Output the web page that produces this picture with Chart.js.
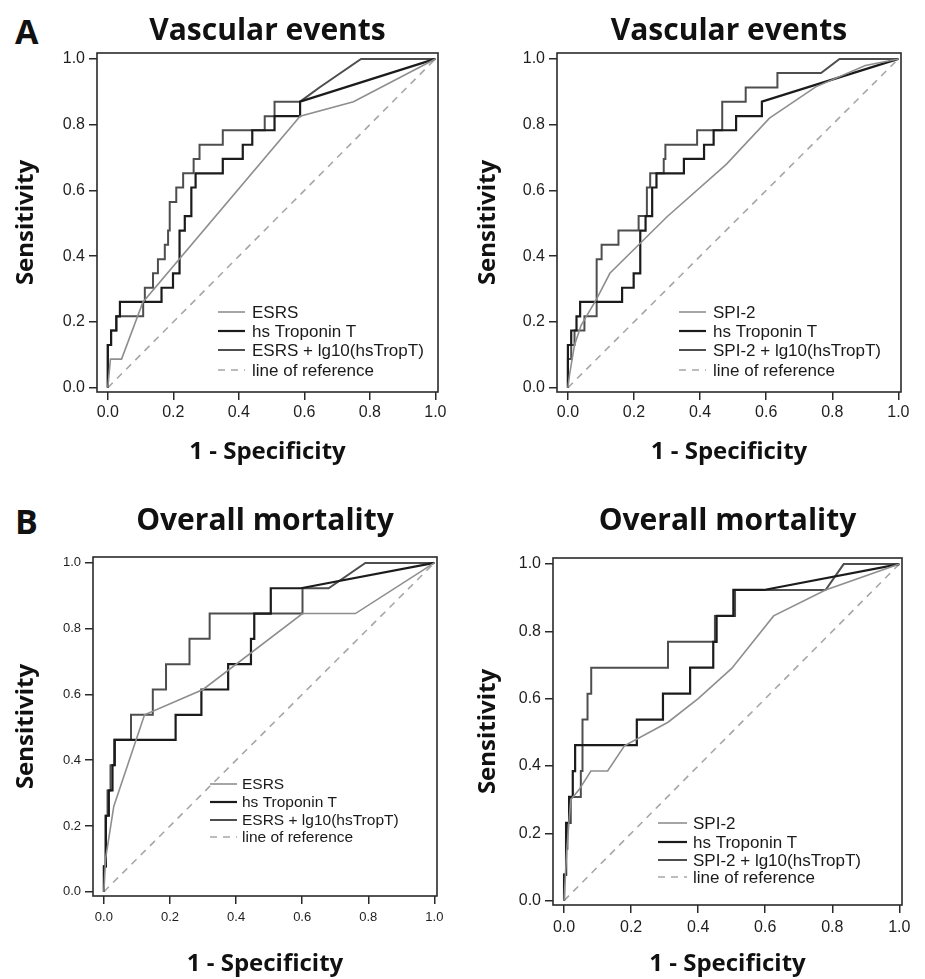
<!DOCTYPE html>
<html>
<head>
<meta charset="utf-8">
<script src="https://cdn.jsdelivr.net/npm/chart.js@4.4.1/dist/chart.umd.min.js"></script>
<style>
  body { margin: 0; background: #fff; width: 925px; height: 979px; position: relative; overflow: hidden; }
  canvas { position: absolute; }
  .tag { position: absolute; font: bold 34px "Open Sans", sans-serif; line-height: 1; color: #111; }
</style>
</head>
<body>
<div class="tag" style="left:15px;top:14px">A</div>
<div class="tag" style="left:15px;top:504px">B</div>
<canvas id="aLeft"></canvas>
<canvas id="aRight"></canvas>
<canvas id="bLeft"></canvas>
<canvas id="bRight"></canvas>
<script>
// axis ticks
const tickValues = [0, 0.2, 0.4, 0.6, 0.8, 1.0];
const tickLabels = ['0.0', '0.2', '0.4', '0.6', '0.8', '1.0'];

// reference diagonal
const refFpr = [0, 1];
const refSens = [0, 1];

// A - vascular events
const vascEsrsFpr = [0, 0.008, 0.042, 0.107, 0.587, 0.750, 1];
const vascEsrsSens = [0, 0.087, 0.087, 0.26, 0.826, 0.870, 1];

const vascTropFpr = [0, 0, 0.01, 0.01, 0.026, 0.026, 0.037, 0.037, 0.164, 0.164, 0.199, 0.199, 0.219, 0.219, 0.235, 0.235, 0.255, 0.255, 0.268, 0.268, 0.351, 0.351, 0.412, 0.412, 0.441, 0.441, 0.509, 0.509, 0.587, 0.587, 1];
const vascTropSens = [0, 0.13, 0.13, 0.174, 0.174, 0.217, 0.217, 0.261, 0.261, 0.304, 0.304, 0.348, 0.348, 0.478, 0.478, 0.522, 0.522, 0.609, 0.609, 0.652, 0.652, 0.696, 0.696, 0.739, 0.739, 0.783, 0.783, 0.826, 0.826, 0.870, 1];

const vascCombEsrsFpr = [0, 0, 0.01, 0.01, 0.026, 0.026, 0.108, 0.108, 0.113, 0.113, 0.138, 0.138, 0.153, 0.153, 0.174, 0.174, 0.184, 0.184, 0.189, 0.189, 0.209, 0.209, 0.230, 0.230, 0.262, 0.262, 0.280, 0.280, 0.351, 0.351, 0.479, 0.479, 0.509, 0.509, 0.587, 0.646, 0.773, 1];
const vascCombEsrsSens = [0, 0.13, 0.13, 0.174, 0.174, 0.217, 0.217, 0.261, 0.261, 0.304, 0.304, 0.348, 0.348, 0.391, 0.391, 0.435, 0.435, 0.478, 0.478, 0.565, 0.565, 0.609, 0.609, 0.652, 0.652, 0.696, 0.696, 0.739, 0.739, 0.783, 0.783, 0.826, 0.826, 0.870, 0.870, 0.913, 1, 1];

const vascSpiFpr = [0, 0.005, 0.02, 0.04, 0.087, 0.127, 0.3, 0.48, 0.61, 0.75, 0.9, 1];
const vascSpiSens = [0, 0.04, 0.13, 0.19, 0.27, 0.348, 0.52, 0.68, 0.82, 0.915, 0.98, 1];

const vascCombSpiFpr = [0, 0, 0.01, 0.01, 0.02, 0.02, 0.05, 0.05, 0.087, 0.087, 0.102, 0.102, 0.153, 0.153, 0.214, 0.214, 0.239, 0.239, 0.249, 0.249, 0.290, 0.290, 0.295, 0.295, 0.391, 0.391, 0.467, 0.467, 0.538, 0.538, 0.634, 0.634, 0.766, 0.822, 1];
const vascCombSpiSens = [0, 0.087, 0.087, 0.13, 0.13, 0.174, 0.174, 0.217, 0.217, 0.391, 0.391, 0.435, 0.435, 0.478, 0.478, 0.522, 0.522, 0.609, 0.609, 0.652, 0.652, 0.696, 0.696, 0.739, 0.739, 0.783, 0.783, 0.870, 0.870, 0.913, 0.913, 0.957, 0.957, 1, 1];

// B - overall mortality
const mortEsrsFpr = [0, 0.005, 0.03, 0.123, 0.30, 0.601, 0.761, 1];
const mortEsrsSens = [0, 0.10, 0.26, 0.538, 0.615, 0.846, 0.846, 1];

const mortTropFpr = [0, 0, 0.006, 0.006, 0.015, 0.015, 0.026, 0.026, 0.033, 0.033, 0.217, 0.217, 0.295, 0.295, 0.376, 0.376, 0.445, 0.445, 0.455, 0.455, 0.505, 0.505, 0.596, 1];
const mortTropSens = [0, 0.077, 0.077, 0.231, 0.231, 0.308, 0.308, 0.385, 0.385, 0.462, 0.462, 0.538, 0.538, 0.615, 0.615, 0.692, 0.692, 0.769, 0.769, 0.846, 0.846, 0.923, 0.923, 1];

const mortCombEsrsFpr = [0, 0, 0.005, 0.005, 0.011, 0.011, 0.02, 0.02, 0.031, 0.031, 0.082, 0.082, 0.148, 0.148, 0.188, 0.188, 0.259, 0.259, 0.320, 0.320, 0.601, 0.601, 0.680, 0.791, 1];
const mortCombEsrsSens = [0, 0.077, 0.077, 0.231, 0.231, 0.308, 0.308, 0.385, 0.385, 0.462, 0.462, 0.538, 0.538, 0.615, 0.615, 0.692, 0.692, 0.769, 0.769, 0.846, 0.846, 0.923, 0.923, 1, 1];

const mortSpiFpr = [0, 0.008, 0.02, 0.045, 0.08, 0.13, 0.18, 0.31, 0.40, 0.50, 0.625, 0.78, 1];
const mortSpiSens = [0, 0.15, 0.30, 0.33, 0.385, 0.385, 0.46, 0.53, 0.60, 0.69, 0.846, 0.923, 1];

const mortCombSpiFpr = [0, 0, 0.006, 0.006, 0.01, 0.01, 0.02, 0.02, 0.05, 0.05, 0.055, 0.055, 0.07, 0.07, 0.081, 0.081, 0.31, 0.31, 0.45, 0.45, 0.51, 0.51, 0.78, 0.834, 1];
const mortCombSpiSens = [0, 0.077, 0.077, 0.154, 0.154, 0.231, 0.231, 0.308, 0.308, 0.385, 0.385, 0.538, 0.538, 0.615, 0.615, 0.692, 0.692, 0.769, 0.769, 0.846, 0.846, 0.923, 0.923, 1, 1];

const toPoints = (xs, ys) => xs.map((x, i) => ({ x: x, y: ys[i] }));

// box around the plot area
const framePlugin = {
  id: 'frame',
  afterDatasetsDraw(chart) {
    const { ctx, chartArea: a } = chart;
    ctx.save();
    ctx.strokeStyle = '#2a2a2a';
    ctx.lineWidth = 1.6;
    ctx.strokeRect(a.left, a.top, a.right - a.left, a.bottom - a.top);
    ctx.restore();
  }
};

// SPSS style legend drawn inside the plot
const rocLegendPlugin = {
  id: 'rocLegend',
  afterDraw(chart, args, opts) {
    const { ctx, chartArea: a } = chart;
    ctx.save();
    ctx.font = opts.font;
    ctx.textBaseline = 'middle';
    chart.data.datasets.forEach((ds, i) => {
      const y = a.top + opts.top + opts.rows[i];
      const x = a.left + opts.left;
      ctx.strokeStyle = ds.borderColor;
      ctx.lineWidth = ds.borderWidth;
      ctx.setLineDash(ds.borderDash || []);
      ctx.beginPath();
      ctx.moveTo(x, y);
      ctx.lineTo(x + opts.sample, y);
      ctx.stroke();
      ctx.setLineDash([]);
      ctx.fillStyle = '#1a1a1a';
      ctx.fillText(ds.label, x + opts.sample + opts.gap, y + 1);
    });
    ctx.restore();
  }
};

function rocLine(label, xs, ys, color, width, dash) {
  return {
    label: label,
    data: toPoints(xs, ys),
    showLine: true,
    borderColor: color,
    borderWidth: width,
    borderDash: dash || [],
    pointRadius: 0,
    fill: false,
    tension: 0,
  };
}

function makePanel(id, p) {
  const el = document.getElementById(id);
  el.width = p.w;
  el.height = p.h;
  el.style.width = p.w + 'px';
  el.style.height = p.h + 'px';
  el.style.left = p.x + 'px';
  el.style.top = p.y + 'px';
  const area = p.area;
  const titleLine = p.titleSize * 1.2;
  const tickFont = { family: 'Liberation Sans', size: p.tickSize };

  new Chart(el, {
    type: 'scatter',
    data: {
      datasets: [
        rocLine(p.score, p.scoreX, p.scoreY, '#8e8e8e', 1.6),
        rocLine('hs Troponin T', p.tropX, p.tropY, '#1b1b1b', 2.2),
        rocLine(p.score + ' + lg10(hsTropT)', p.combX, p.combY, '#4e4e4e', 2),
        rocLine('line of reference', refFpr, refSens, '#a6a6a6', 1.6, [7, 6]),
      ],
    },
    options: {
      responsive: false,
      animation: false,
      layout: { autoPadding: false, padding: { left: 0, top: 0, bottom: 0, right: p.x + p.w - area.right } },
      scales: {
        x: {
          type: 'linear',
          min: -0.033,
          max: 1.008,
          afterFit: (s) => { s.height = p.y + p.h - area.bottom; },
          afterBuildTicks: (s) => { s.ticks = tickValues.map(v => ({ value: v })); },
          ticks: { callback: (v, i) => tickLabels[i], font: tickFont, color: '#1e1e1e', padding: p.xTickPad, maxRotation: 0, autoSkip: false },
          grid: { drawOnChartArea: false, tickLength: 8, color: '#2a2a2a', lineWidth: 1.5 },
          border: { display: false },
          title: {
            display: true,
            text: '1 - Specificity',
            color: '#111',
            font: { family: 'Open Sans', weight: 'bold', size: 24, lineHeight: 1.2 },
            padding: { top: 0, bottom: p.xTitlePad },
          },
        },
        y: {
          type: 'linear',
          min: -0.013,
          max: 1.018,
          afterFit: (s) => { s.width = area.left - p.x; },
          afterBuildTicks: (s) => { s.ticks = tickValues.map(v => ({ value: v })); },
          ticks: { callback: (v, i) => tickLabels[i], font: tickFont, color: '#1e1e1e', padding: 4, autoSkip: false },
          grid: { drawOnChartArea: false, tickLength: 8, color: '#2a2a2a', lineWidth: 1.5 },
          border: { display: false },
          title: {
            display: true,
            text: 'Sensitivity',
            color: '#111',
            font: { family: 'Open Sans', weight: 'bold', size: 24, lineHeight: 1.2 },
            padding: { top: 12, bottom: 0 },
          },
        },
      },
      plugins: {
        legend: { display: false },
        tooltip: { enabled: false },
        title: {
          display: true,
          text: p.title,
          fullSize: false,
          color: '#111',
          font: { family: 'Open Sans', weight: 'bold', size: p.titleSize, lineHeight: 1.2 },
          padding: { top: p.titleTop, bottom: area.top - p.y - p.titleTop - titleLine },
        },
        rocLegend: p.legend,
      },
    },
    plugins: [framePlugin, rocLegendPlugin],
  });
}

makePanel('aLeft', {
  x: 0, y: 0, w: 462, h: 475,
  area: { left: 97, top: 53, right: 438, bottom: 392 },
  title: 'Vascular events', titleSize: 30, titleTop: 13,
  tickSize: 16, xTickPad: 3, xTitlePad: 8,
  score: 'ESRS',
  scoreX: vascEsrsFpr, scoreY: vascEsrsSens,
  tropX: vascTropFpr, tropY: vascTropSens,
  combX: vascCombEsrsFpr, combY: vascCombEsrsSens,
  legend: { left: 121, top: 259, rows: [0, 19, 38, 58], sample: 27, gap: 7, font: '17px "Liberation Sans"' },
});

makePanel('aRight', {
  x: 462, y: 0, w: 463, h: 475,
  area: { left: 557, top: 53, right: 901, bottom: 392 },
  title: 'Vascular events', titleSize: 30, titleTop: 13,
  tickSize: 16, xTickPad: 3, xTitlePad: 8,
  score: 'SPI-2',
  scoreX: vascSpiFpr, scoreY: vascSpiSens,
  tropX: vascTropFpr, tropY: vascTropSens,
  combX: vascCombSpiFpr, combY: vascCombSpiSens,
  legend: { left: 122, top: 259, rows: [0, 19, 38, 58], sample: 27, gap: 7, font: '17px "Liberation Sans"' },
});

makePanel('bLeft', {
  x: 0, y: 475, w: 462, h: 504,
  area: { left: 93, top: 557, right: 437, bottom: 896 },
  title: 'Overall mortality', titleSize: 30, titleTop: 28,
  tickSize: 13, xTickPad: 6, xTitlePad: 0,
  score: 'ESRS',
  scoreX: mortEsrsFpr, scoreY: mortEsrsSens,
  tropX: mortTropFpr, tropY: mortTropSens,
  combX: mortCombEsrsFpr, combY: mortCombEsrsSens,
  legend: { left: 117, top: 227, rows: [0, 18, 36, 53], sample: 27, gap: 5, font: '15.5px "Liberation Sans"' },
});

makePanel('bRight', {
  x: 462, y: 475, w: 463, h: 504,
  area: { left: 553, top: 558, right: 902, bottom: 905 },
  title: 'Overall mortality', titleSize: 30, titleTop: 28,
  tickSize: 16, xTickPad: 5, xTitlePad: 0,
  score: 'SPI-2',
  scoreX: mortSpiFpr, scoreY: mortSpiSens,
  tropX: mortTropFpr, tropY: mortTropSens,
  combX: mortCombSpiFpr, combY: mortCombSpiSens,
  legend: { left: 105, top: 265, rows: [0, 19, 37, 54], sample: 29, gap: 6, font: '17px "Liberation Sans"' },
});
</script>
</body>
</html>
